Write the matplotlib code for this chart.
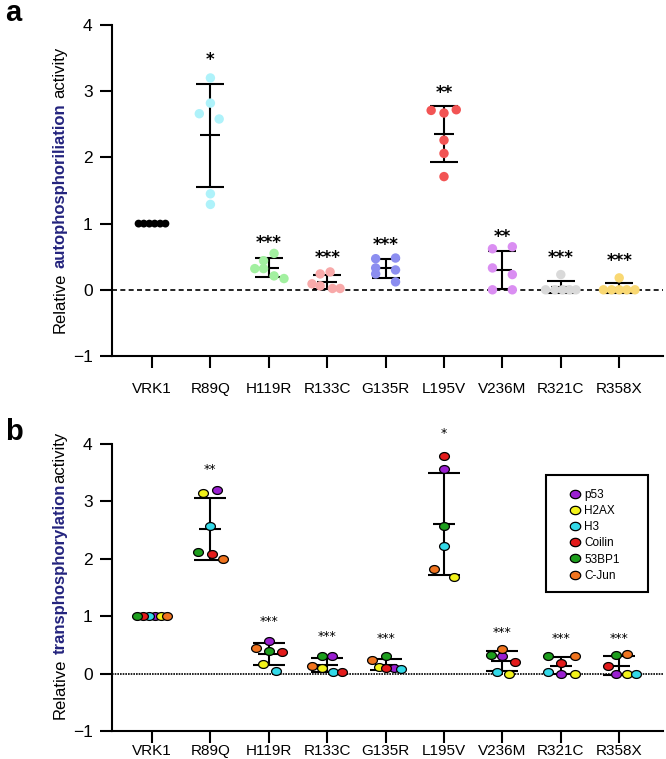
import matplotlib
matplotlib.use('Agg')
import matplotlib.pyplot as plt
import numpy as np
from matplotlib.path import Path
from matplotlib.lines import Line2D
from matplotlib.patches import Rectangle

plt.rcParams['font.family'] = ['Liberation Sans', 'DejaVu Sans']

# ---------------- data ----------------
categories = ['VRK1', 'R89Q', 'H119R', 'R133C', 'G135R', 'L195V', 'V236M', 'R321C', 'R358X']

# panel a: relative autophosphorylation (6 replicates each)
auto_VRK1 = [1.0, 1.0, 1.0, 1.0, 1.0, 1.0]
auto_R89Q = [3.20, 2.82, 2.66, 2.58, 1.45, 1.29]
auto_H119R = [0.55, 0.44, 0.32, 0.32, 0.21, 0.17]
auto_R133C = [0.27, 0.24, 0.09, 0.06, 0.02, 0.02]
auto_G135R = [0.47, 0.48, 0.33, 0.30, 0.24, 0.12]
auto_L195V = [2.71, 2.67, 2.72, 2.26, 2.06, 1.71]
auto_V236M = [0.62, 0.65, 0.33, 0.23, 0.0, 0.0]
auto_R321C = [0.23, 0.0, 0.0, 0.0, 0.0, 0.0]
auto_R358X = [0.18, 0.0, 0.0, 0.0, 0.0, 0.0]
auto_all = [auto_VRK1, auto_R89Q, auto_H119R, auto_R133C, auto_G135R,
            auto_L195V, auto_V236M, auto_R321C, auto_R358X]
stars_a = ['', '*', '***', '***', '***', '**', '**', '***', '***']

# panel b: relative transphosphorylation per substrate (one value per construct)
substrates = ['p53', 'H2AX', 'H3', 'Coilin', '53BP1', 'C-Jun']
trans_p53 = [1.0, 3.20, 0.57, 0.31, 0.10, 3.57, 0.31, 0.0, 0.0]
trans_H2AX = [1.0, 3.15, 0.17, 0.10, 0.12, 1.69, 0.0, 0.0, 0.0]
trans_H3 = [1.0, 2.57, 0.05, 0.03, 0.08, 2.23, 0.02, 0.02, 0.0]
trans_Coilin = [1.0, 2.09, 0.38, 0.03, 0.10, 3.79, 0.21, 0.19, 0.14]
trans_53BP1 = [1.0, 2.12, 0.40, 0.30, 0.31, 2.57, 0.33, 0.30, 0.33]
trans_CJun = [1.0, 2.00, 0.45, 0.14, 0.23, 1.82, 0.43, 0.31, 0.35]
trans_all = [trans_p53, trans_H2AX, trans_H3, trans_Coilin, trans_53BP1, trans_CJun]
stars_b = ['', '**', '***', '***', '***', '*', '***', '***', '***']

# ---------------- layout / style ----------------
colors_a = ['#000000', '#aef2fa', '#a2f0a0', '#f8a9a9', '#8c8ef0',
            '#f25454', '#da8ef2', '#d9d9d9', '#f9d873']
colors_b = ['#9a1fd0', '#f2f21a', '#33d9e8', '#e31b1b', '#1d9e1d', '#f0741f']

# horizontal jitter of each replicate (category units)
dx_a = [[-0.23, -0.14, -0.046, 0.046, 0.14, 0.23],
        [0.0, 0.0, -0.19, 0.15, 0.0, 0.0],
        [0.09, -0.09, -0.24, -0.09, 0.09, 0.26],
        [0.05, -0.12, -0.26, -0.12, 0.09, 0.22],
        [-0.17, 0.17, -0.17, 0.17, -0.17, 0.17],
        [-0.22, 0.0, 0.21, 0.0, 0.0, 0.0],
        [-0.17, 0.17, -0.17, 0.17, -0.17, 0.17],
        [0.0, -0.26, -0.1, 0.03, 0.15, 0.26],
        [0.0, -0.27, -0.13, 0.0, 0.13, 0.27]]
dx_b = [[0.05, 0.12, 0.0, 0.09, 0.14, 0.0, 0.0, 0.0, -0.05],
        [0.15, -0.12, -0.1, -0.09, -0.12, 0.17, 0.12, 0.24, 0.13],
        [-0.05, 0.0, 0.12, 0.1, 0.26, 0.0, -0.1, -0.22, 0.28],
        [-0.15, 0.02, 0.22, 0.26, 0.0, 0.0, 0.22, 0.0, -0.2],
        [-0.25, -0.22, 0.0, -0.09, 0.0, 0.0, -0.2, -0.22, -0.05],
        [0.25, 0.22, -0.22, -0.26, -0.24, -0.17, 0.0, 0.24, 0.14]]
star_y_a = [0, 3.47, 0.71, 0.48, 0.67, 2.98, 0.80, 0.48, 0.44]
star_y_b = [0, 3.55, 0.90, 0.64, 0.61, 4.19, 0.71, 0.61, 0.61]

W, H = 666, 759
fig = plt.figure(figsize=(W / 100, H / 100), dpi=100)
axA = fig.add_axes([112 / W, 1 - 356 / H, 551 / W, 331 / H])
axB = fig.add_axes([112 / W, 1 - 731 / H, 551 / W, 287 / H])

xpos = np.arange(len(categories))
theta = np.linspace(0, 2 * np.pi, 60)
ellipse = Path(np.column_stack([np.cos(theta), 0.8 * np.sin(theta)]), closed=True)


def style_axes(ax, xpad):
    ax.set_xlim(-0.685, 8.75)
    ax.set_ylim(-1, 4)
    ax.set_yticks([-1, 0, 1, 2, 3, 4])
    ax.set_xticks(xpos)
    ax.set_xticklabels(categories, fontsize=11)
    for s in ['top', 'right']:
        ax.spines[s].set_visible(False)
    for s in ['left', 'bottom']:
        ax.spines[s].set_linewidth(1.5)
    ax.tick_params(axis='y', length=9, width=1.5, labelsize=12.5, pad=5)
    ax.tick_params(axis='x', length=8.5, width=1.5, labelsize=11, pad=xpad)


# ---------- panel a ----------
style_axes(axA, 10)
axA.axhline(0, color='black', lw=1.2, ls=(0, (3, 2)), zorder=1)
for i, vals in enumerate(auto_all):
    v = np.array(vals)
    m, sd = v.mean(), v.std(ddof=1)
    axA.errorbar(xpos[i], m, yerr=sd, color='black', lw=1.5, capsize=10, capthick=1.5, zorder=2)
    axA.hlines(m, xpos[i] - 0.17, xpos[i] + 0.17, color='black', lw=1.5, zorder=2)
    size = 32 if i == 0 else 46
    axA.scatter(xpos[i] + np.array(dx_a[i]), v, s=size, color=colors_a[i],
                edgecolors='none', zorder=3)
    if stars_a[i]:
        axA.text(xpos[i], star_y_a[i], stars_a[i], ha='center', va='center',
                 fontsize=12, fontweight='bold', family='DejaVu Sans')

# ---------- panel b ----------
style_axes(axB, 1)
axB.axhline(0, color='black', lw=1.2, ls=(0, (1, 0.6)), zorder=1)
tb = np.array(trans_all)
for i in range(len(categories)):
    v = tb[:, i]
    m, sd = v.mean(), v.std(ddof=1)
    axB.errorbar(xpos[i], m, yerr=sd, color='black', lw=1.5, capsize=11.5, capthick=1.5, zorder=2)
    axB.hlines(m, xpos[i] - 0.19, xpos[i] + 0.19, color='black', lw=1.5, zorder=2)
    if stars_b[i]:
        axB.text(xpos[i], star_y_b[i], stars_b[i], ha='center', va='center',
                 fontsize=9, family='DejaVu Sans')
for k, vals in enumerate(trans_all):
    axB.scatter(xpos + np.array(dx_b[k]), vals, s=50, marker=ellipse,
                color=colors_b[k], edgecolors='black', linewidths=0.9, zorder=3)

# legend with a separate frame
bx0, bx1 = (546 - 112) / 551, (648 - 112) / 551
by0, by1 = (731 - 592) / 287, (731 - 475) / 287
axB.add_patch(Rectangle((bx0, by0), bx1 - bx0, by1 - by0, transform=axB.transAxes,
                        fill=False, edgecolor='black', lw=1.5, clip_on=False))
handles = [Line2D([], [], ls='none', marker=ellipse, markersize=7.5, markerfacecolor=c,
                  markeredgecolor='black', markeredgewidth=0.9) for c in colors_b]
leg = axB.legend(handles, substrates, loc='upper left',
                 bbox_to_anchor=((569 - 112) / 551, (731 - 489) / 287),
                 frameon=False, fontsize=8.5, handlelength=1.0, handletextpad=0.3,
                 labelspacing=0.35, borderpad=0, borderaxespad=0)

# ---------- mixed-style y labels ----------
renderer = fig.canvas.get_renderer()


def text_width(s, weight, size):
    t = fig.text(0, 0, s, fontsize=size, fontweight=weight)
    w = t.get_window_extent(renderer).width
    t.remove()
    return w


def mixed_ylabel(x_px, yc_px_top, parts, size):
    widths = [text_width(s, w, size) for s, w, c, g in parts]
    gaps = [g * text_width('a a', 'normal', size) - g * text_width('aa', 'normal', size)
            for s, w, c, g in parts]
    total = sum(widths) + sum(gaps)
    y = (H - yc_px_top) - total / 2
    for (s, w, c, g), wd, gp in zip(parts, widths, gaps):
        fig.text(x_px / W, y / H, s, rotation=90, ha='center', va='bottom',
                 fontsize=size, fontweight=w, color=c)
        y += wd + gp


navy = '#23237d'
mixed_ylabel(60, 190, [('Relative', 'normal', 'black', 1.0),
                       ('autophosphoriliation', 'bold', navy, 1.0),
                       ('activity', 'normal', 'black', 0.0)], 12)
mixed_ylabel(60, 575, [('Relative', 'normal', 'black', 1.0),
                       ('transphosphorylation', 'bold', navy, 0.15),
                       ('activity', 'normal', 'black', 0.0)], 12)

fig.text(5 / W, 1 - 21 / H, 'a', fontsize=21, fontweight='bold', ha='left', va='baseline')
fig.text(5 / W, 1 - 440 / H, 'b', fontsize=21, fontweight='bold', ha='left', va='baseline')

fig.savefig('out.png', dpi=100)
